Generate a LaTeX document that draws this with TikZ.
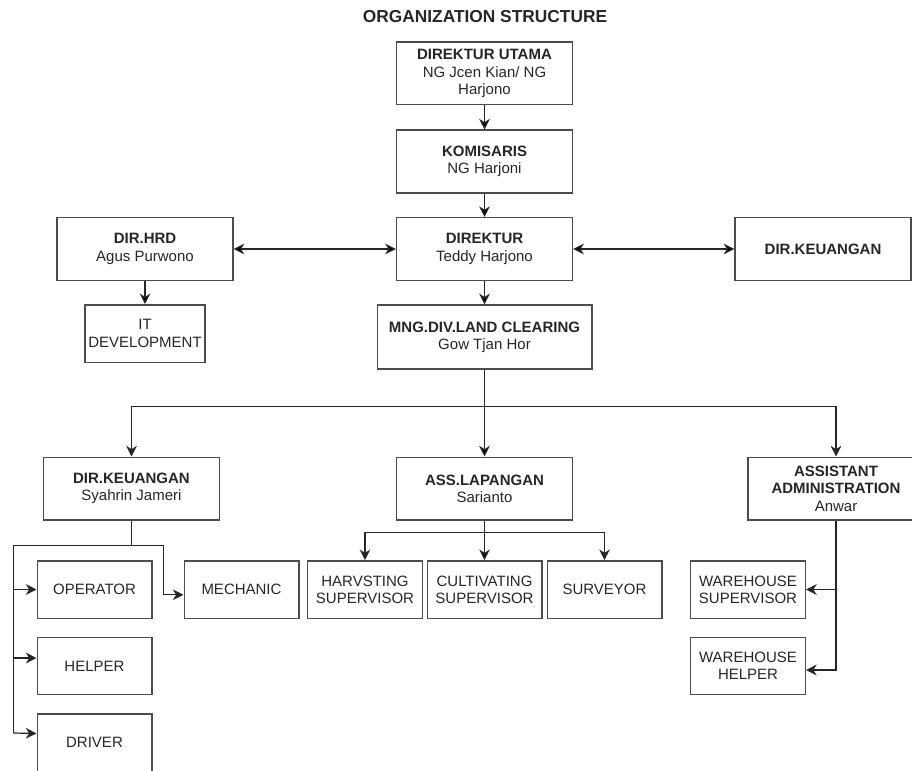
\documentclass[tikz,border=0pt]{standalone}
\usepackage{fontspec}
\setmainfont{Liberation Sans}
\usetikzlibrary{arrows.meta}
\tikzset{
% Two box styles for the chart: wide role boxes and small staff boxes
role box/.style={rectangle,draw=black!70,line width=1pt,text=black!85,align=center,inner sep=1pt,minimum width=132pt,minimum height=47pt},
staff box/.style={rectangle,draw=black!70,line width=1pt,text=black!85,align=center,inner sep=1pt,minimum width=86pt,minimum height=43pt},
wire/.style={draw=black!85,line width=0.9pt},
link/.style={wire,->},
>={Stealth[length=8pt,width=8pt,inset=2.5pt]}
}
\begin{document}
\begin{tikzpicture}[x=0.75pt,y=-0.75pt,font=\fontsize{11.25}{13}\selectfont]
\useasboundingbox (0,0) rectangle (912,770);
\clip (0,0) rectangle (912,770);
\node[font=\fontsize{13}{15}\selectfont\bfseries,text=black!85] (title) at (485,17) {ORGANIZATION STRUCTURE};

\node[role box] (utama) at (484.5,73.5) {\textbf{DIREKTUR UTAMA}\\NG Jcen Kian/ NG\\Harjono};
\node[role box] (komisaris) at (484.5,161.5) {\textbf{KOMISARIS}\\NG Harjoni};
\node[role box] (direktur) at (484.5,249) {\textbf{DIREKTUR}\\Teddy Harjono};
\node[role box] (hrd) at (145,249) {\textbf{DIR.HRD}\\Agus Purwono};
\node[role box] (keuangan) at (823,249) {\textbf{DIR.KEUANGAN}};
\node[staff box,minimum width=90pt] (itdev) at (145,333.5) {IT\\DEVELOPMENT};
\node[role box,minimum width=161pt,minimum height=48pt] (mng) at (484.5,337) {\textbf{MNG.DIV.LAND CLEARING}\\Gow Tjan Hor};

\node[role box] (keu2) at (131.5,488.5) {\textbf{DIR.KEUANGAN}\\Syahrin Jameri};
\node[role box] (lapangan) at (484.5,488.5) {\textbf{ASS.LAPANGAN}\\Sarianto};
\node[role box] (asst) at (836,488.5) {\textbf{ASSISTANT}\\\textbf{ADMINISTRATION}\\Anwar};

\node[staff box] (operator) at (94.5,589.5) {OPERATOR};
\node[staff box] (helper) at (94.5,666) {HELPER};
\node[staff box] (driver) at (94.5,742.5) {DRIVER};
\node[staff box] (mechanic) at (241.5,589.5) {MECHANIC};
\node[staff box] (harv) at (365,589.5) {HARVSTING\\SUPERVISOR};
\node[staff box] (cult) at (484.5,589.5) {CULTIVATING\\SUPERVISOR};
\node[staff box] (surv) at (604.5,589.5) {SURVEYOR};
\node[staff box] (whsup) at (748,589.5) {WAREHOUSE\\SUPERVISOR};
\node[staff box] (whhelp) at (748,666) {WAREHOUSE\\HELPER};

\path [link] (utama) edge (komisaris);
\path [link] (komisaris) edge (direktur);
\path [link,<->] (hrd) edge (direktur);
\path [link,<->] (direktur) edge (keuangan);
\path [link] (hrd) edge (itdev);
\path [link] (direktur) edge (mng);
\path [link] (mng) edge (lapangan);
% bus under the land clearing manager
\coordinate (mbus) at (484.5,406.5);
\draw [link] (mbus) -| (keu2.north);
\draw [link] (mbus) -| (asst.north);

\coordinate (lbus) at (484.5,532.5);
\draw [link] (lbus) -| (harv.north);
\path [link] (lapangan) edge (cult);
\draw [link] (lbus) -| (surv.north);

\coordinate (kbus) at (131.5,545.5);
\coordinate (kl) at (13.5,545.5);
\coordinate (kr) at (163.5,545.5);
\draw [wire] (keu2.south) -- (kbus);
\draw [wire] (kr) -- (kl) -- (13.5,733);
\draw [link] (13.5,589.5) -- (operator.west);
\draw [link] (13.5,658) -- ([yshift=6pt]helper.west);
\draw [link] (13.5,733) -- ([yshift=6.75pt]driver.west);
\draw [link] (kr) |- ([yshift=-4pt]mechanic.west);

\coordinate (abus) at (836,589.5);
\draw [wire] (asst.south) -- (abus);
\draw [link] (abus) -- (whsup.east);
\draw [link] (abus) |- ([yshift=-3pt]whhelp.east);
\end{tikzpicture}
\end{document}
